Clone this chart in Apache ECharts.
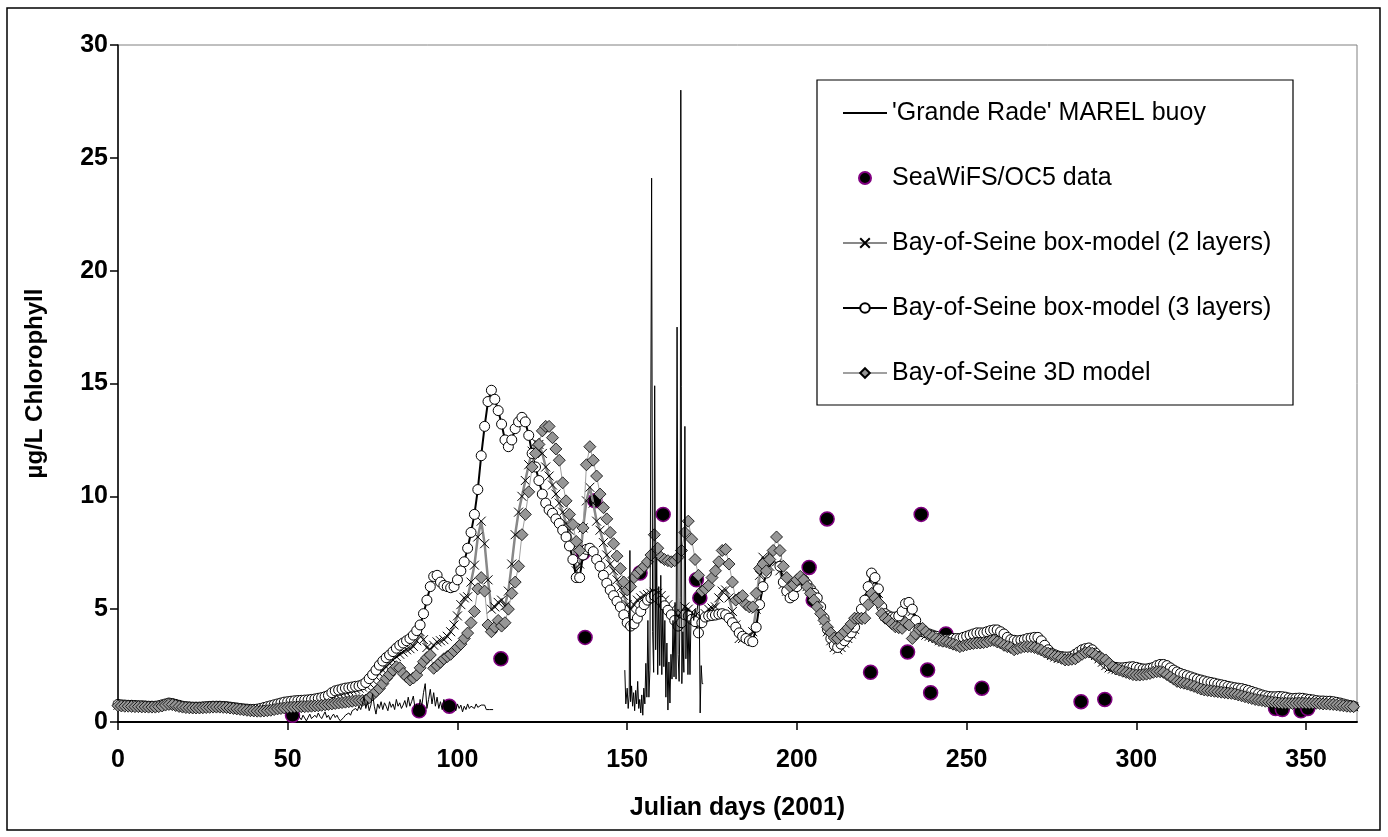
<!DOCTYPE html>
<html>
<head>
<meta charset="utf-8">
<title>Chlorophyll, Bay of Seine 2001</title>
<script src="https://cdn.jsdelivr.net/npm/echarts@6/dist/echarts.min.js"></script>
<style>
  html, body { margin: 0; padding: 0; background: #fff; }
  #chart { width: 1388px; height: 837px; }
</style>
</head>
<body>
<div id="chart"></div>
<script>
// ---- Data (Julian day 2001, µg/L chlorophyll) ----

// Axis ticks
const xTickValues = [0, 50, 100, 150, 200, 250, 300, 350];
const yTickValues = [0, 5, 10, 15, 20, 25, 30];

// Daily model outputs, starting at day 0
const modelFirstDay = 0;

const boxModel2Layers = [
  0.74,0.73,0.72,0.72,0.71,0.70,0.70,0.69,0.69,0.68,
  0.68,0.68,0.70,0.73,0.77,0.80,0.79,0.75,0.71,0.68,
  0.66,0.65,0.64,0.64,0.64,0.65,0.66,0.67,0.68,0.68,
  0.68,0.67,0.66,0.64,0.62,0.60,0.58,0.56,0.55,0.54,
  0.54,0.55,0.57,0.60,0.63,0.66,0.70,0.73,0.76,0.79,
  0.82,0.84,0.86,0.87,0.88,0.89,0.90,0.91,0.93,0.95,
  0.98,1.02,1.07,1.15,1.22,1.27,1.31,1.35,1.38,1.42,
  1.45,1.50,1.55,1.62,1.72,1.85,2.00,2.15,2.30,2.45,
  2.60,2.75,2.90,3.00,3.10,3.20,3.25,3.35,3.60,4.00,
  3.65,3.30,3.20,3.40,3.55,3.60,3.65,3.80,4.00,4.30,
  4.70,5.20,5.50,5.55,6.20,6.95,8.20,8.90,7.90,6.30,
  5.00,5.10,5.30,5.40,5.15,5.80,7.00,8.30,9.30,10.0,
  10.7,11.4,12.0,12.4,12.3,11.9,11.3,10.9,10.5,10.1,
  9.70,9.30,8.80,8.50,7.80,6.70,7.00,8.60,9.80,10.4,
  9.70,8.90,8.50,7.95,7.40,7.00,6.70,6.30,5.95,5.60,
  5.20,5.00,5.20,5.40,5.50,5.60,5.65,5.70,5.75,5.70,
  5.60,5.40,5.20,5.00,4.80,4.70,4.80,5.10,5.00,4.85,
  4.70,4.55,4.60,4.80,5.00,5.05,5.10,5.50,5.80,5.85,
  5.50,4.90,4.30,3.70,3.70,3.75,3.80,4.00,5.00,6.50,
  7.30,7.10,6.90,7.20,7.10,6.70,6.10,5.80,5.60,5.80,
  6.10,6.20,6.20,6.00,5.80,5.60,5.40,5.00,4.50,4.00,
  3.60,3.30,3.20,3.30,3.50,3.70,3.90,4.10,4.50,4.90,
  5.30,5.80,6.30,6.20,5.70,5.00,4.70,4.60,4.55,4.55,
  4.60,4.80,5.10,5.15,4.90,4.40,4.05,3.90,3.85,3.80,
  3.75,3.70,3.60,3.55,3.55,3.55,3.60,3.60,3.60,3.65,
  3.70,3.75,3.80,3.85,3.85,3.85,3.90,3.95,3.98,3.98,
  3.90,3.80,3.65,3.55,3.52,3.50,3.52,3.55,3.60,3.62,
  3.65,3.65,3.50,3.30,3.10,2.95,2.88,2.82,2.80,2.78,
  2.78,2.80,2.90,3.00,3.10,3.15,3.18,3.10,2.95,2.80,
  2.65,2.50,2.40,2.35,2.32,2.30,2.30,2.32,2.34,2.35,
  2.32,2.28,2.25,2.25,2.28,2.32,2.40,2.45,2.45,2.40,
  2.30,2.20,2.12,2.05,2.00,1.95,1.90,1.85,1.80,1.76,
  1.72,1.68,1.65,1.62,1.58,1.55,1.52,1.48,1.45,1.42,
  1.40,1.38,1.34,1.30,1.25,1.20,1.15,1.10,1.06,1.03,
  1.02,1.02,1.03,1.02,1.00,0.96,0.94,0.95,0.96,0.95,
  0.92,0.90,0.88,0.86,0.85,0.85,0.84,0.84,0.82,0.80,
  0.78,0.75,0.72,0.70,0.68
];

const boxModel3Layers = [
  0.78,0.76,0.75,0.74,0.74,0.73,0.72,0.72,0.71,0.70,
  0.70,0.70,0.72,0.76,0.80,0.84,0.82,0.78,0.74,0.70,
  0.68,0.67,0.66,0.66,0.66,0.67,0.68,0.69,0.70,0.70,
  0.70,0.69,0.68,0.66,0.64,0.62,0.60,0.58,0.57,0.56,
  0.56,0.57,0.60,0.64,0.68,0.72,0.76,0.80,0.84,0.88,
  0.90,0.92,0.94,0.95,0.96,0.97,0.98,1.00,1.02,1.05,
  1.08,1.12,1.18,1.30,1.38,1.42,1.46,1.50,1.52,1.55,
  1.58,1.60,1.65,1.75,1.92,2.10,2.30,2.52,2.70,2.85,
  2.97,3.12,3.27,3.40,3.50,3.60,3.70,3.85,4.05,4.30,
  4.80,5.40,6.00,6.45,6.50,6.20,6.05,6.00,5.95,6.00,
  6.30,6.70,7.10,7.70,8.40,9.20,10.3,11.8,13.1,14.2,
  14.7,14.3,13.8,13.2,12.5,12.2,12.5,13.0,13.3,13.5,
  13.3,12.7,11.9,11.3,10.7,10.1,9.70,9.40,9.25,9.00,
  8.80,8.50,8.20,7.80,7.20,6.40,6.40,7.40,7.65,7.70,
  7.55,7.20,6.90,6.50,6.15,5.85,5.60,5.35,5.10,4.75,
  4.40,4.25,4.35,4.60,4.90,5.20,5.40,5.50,5.60,5.50,
  5.35,5.15,4.95,4.75,4.50,4.25,4.40,4.75,4.70,4.55,
  4.45,3.95,4.40,4.65,4.70,4.72,4.74,4.78,4.80,4.75,
  4.60,4.40,4.20,3.95,3.80,3.70,3.60,3.56,4.20,5.20,
  6.00,6.60,7.20,7.50,7.30,6.90,6.20,5.80,5.50,5.60,
  6.00,6.30,6.30,6.10,5.90,5.70,5.50,5.10,4.60,4.10,
  3.70,3.40,3.30,3.45,3.60,3.80,3.95,4.20,4.60,5.00,
  5.40,6.00,6.60,6.40,5.90,5.10,4.80,4.70,4.65,4.65,
  4.70,4.90,5.25,5.30,5.00,4.50,4.15,4.00,3.95,3.90,
  3.85,3.80,3.70,3.65,3.65,3.65,3.70,3.70,3.70,3.75,
  3.80,3.85,3.90,3.95,3.95,3.95,4.00,4.05,4.08,4.08,
  4.00,3.90,3.75,3.65,3.62,3.60,3.62,3.65,3.70,3.72,
  3.75,3.75,3.60,3.40,3.20,3.05,2.98,2.92,2.90,2.88,
  2.88,2.90,3.00,3.10,3.20,3.25,3.28,3.20,3.05,2.90,
  2.75,2.60,2.50,2.45,2.42,2.40,2.40,2.42,2.44,2.45,
  2.42,2.38,2.35,2.35,2.38,2.42,2.50,2.55,2.55,2.50,
  2.40,2.30,2.22,2.15,2.10,2.05,2.00,1.95,1.90,1.86,
  1.82,1.78,1.75,1.72,1.68,1.65,1.62,1.58,1.55,1.52,
  1.50,1.48,1.44,1.40,1.35,1.30,1.25,1.20,1.16,1.13,
  1.12,1.12,1.13,1.12,1.10,1.06,1.04,1.05,1.06,1.05,
  1.02,1.00,0.98,0.95,0.93,0.93,0.92,0.92,0.90,0.87,
  0.84,0.80,0.76,0.73,0.70
];

const model3D = [
  0.72,0.71,0.70,0.70,0.69,0.68,0.68,0.67,0.67,0.66,
  0.66,0.66,0.68,0.71,0.75,0.78,0.77,0.73,0.69,0.66,
  0.64,0.63,0.62,0.62,0.62,0.63,0.64,0.65,0.66,0.66,
  0.66,0.65,0.64,0.62,0.60,0.58,0.56,0.54,0.52,0.50,
  0.49,0.48,0.48,0.49,0.50,0.52,0.55,0.58,0.60,0.62,
  0.64,0.65,0.66,0.67,0.68,0.68,0.69,0.70,0.71,0.72,
  0.74,0.76,0.78,0.80,0.82,0.84,0.86,0.88,0.90,0.92,
  0.94,0.95,0.96,0.97,1.08,1.20,1.35,1.49,1.70,1.93,
  2.10,2.30,2.45,2.40,2.15,2.00,1.86,1.95,2.08,2.40,
  2.67,2.85,2.97,2.38,2.50,2.65,2.80,2.90,3.00,3.15,
  3.30,3.45,3.70,3.94,4.40,4.90,5.90,6.40,5.80,4.30,
  4.00,4.20,4.50,4.25,4.40,5.00,5.70,6.20,6.90,8.30,
  9.20,10.2,11.3,11.9,12.3,12.9,13.1,13.1,12.6,12.1,
  11.6,10.6,9.80,9.20,8.75,8.00,7.60,8.60,11.4,12.2,
  11.6,10.9,10.1,9.50,9.00,8.40,7.90,7.35,6.80,6.20,
  5.85,6.00,6.40,6.60,6.75,6.90,7.10,7.40,8.30,7.70,
  7.30,7.20,7.15,7.10,7.15,7.30,7.60,8.40,8.90,8.10,
  7.20,6.50,5.80,5.90,6.05,6.40,6.70,7.10,7.60,7.65,
  7.00,6.20,5.40,5.50,5.60,5.20,5.10,5.10,5.70,6.80,
  7.00,6.70,7.20,7.60,8.20,7.60,6.90,6.40,6.00,6.10,
  6.30,6.45,6.30,6.00,5.70,5.40,5.10,4.80,4.50,4.20,
  3.95,3.72,3.70,3.85,4.00,4.16,4.35,4.60,4.60,4.60,
  4.60,5.20,5.70,5.50,5.30,4.80,4.60,4.50,4.35,4.22,
  4.18,4.15,4.40,4.30,3.70,3.90,4.10,4.15,4.00,3.85,
  3.78,3.70,3.62,3.58,3.56,3.50,3.45,3.40,3.34,3.38,
  3.42,3.46,3.48,3.50,3.50,3.52,3.55,3.60,3.62,3.55,
  3.50,3.40,3.34,3.30,3.20,3.25,3.30,3.34,3.34,3.34,
  3.30,3.25,3.19,3.10,3.05,2.98,2.92,2.89,2.82,2.75,
  2.75,2.78,2.80,2.90,3.00,3.08,3.10,3.05,2.95,2.85,
  2.80,2.75,2.60,2.45,2.35,2.30,2.25,2.20,2.15,2.10,
  2.08,2.08,2.10,2.12,2.15,2.20,2.23,2.23,2.20,2.10,
  2.00,1.90,1.80,1.75,1.72,1.68,1.63,1.58,1.52,1.46,
  1.42,1.40,1.38,1.36,1.34,1.32,1.30,1.28,1.27,1.24,
  1.20,1.16,1.12,1.08,1.04,1.00,0.97,0.95,0.92,0.90,
  0.88,0.86,0.84,0.83,0.83,0.82,0.82,0.83,0.84,0.84,
  0.83,0.83,0.83,0.83,0.82,0.80,0.80,0.79,0.78,0.76,
  0.74,0.72,0.70,0.69,0.68
];

// Satellite estimates
const seaWiFSDays = [51.4, 88.7, 97.6, 112.8, 137.0, 137.6, 140.5, 153.8, 160.6, 170.4,
  171.4, 203.6, 204.8, 208.9, 221.7, 232.6, 236.6, 238.5, 239.4, 243.9,
  254.5, 283.7, 290.7, 341.0, 343.0, 348.5, 350.5];
const seaWiFSValues = [0.3, 0.5, 0.7, 2.8, 7.5, 3.75, 9.8, 6.6, 9.2, 6.3,
  5.5, 6.85, 5.4, 9.0, 2.2, 3.1, 9.2, 2.3, 1.3, 3.9,
  1.5, 0.9, 1.0, 0.6, 0.55, 0.5, 0.6];

// MAREL buoy, first deployment (spring)
const buoySpringDays = [
  52,52.5,53,53.5,54,54.5,55,55.5,56,56.5,57,57.5,58,58.5,59,59.5,60,60.5,61,61.5,
  62,62.5,63,63.5,64,64.5,65,65.5,66,66.5,67,67.5,68,68.5,69,69.5,70,70.5,71,71.5,
  72,72.5,73,73.5,74,74.5,75,75.5,76,76.5,77,77.5,78,78.5,79,79.5,80,80.5,81,81.5,
  82,82.5,83,83.5,84,84.5,85,85.5,86,86.5,87,87.5,88,88.5,89,89.5,90,90.5,91,91.5,
  92,92.5,93,93.5,94,94.5,95,95.5,96,96.5,97,97.5,98,98.5,99,99.5,100,100.5,101,101.5,
  102,102.5,103,103.5,104,104.5,105,105.5,106,106.5,107,107.5,108,108.5,109,109.5,110,110.5
];
const buoySpringValues = [
  0.30,0.15,0.35,0.20,0.10,0.30,0.25,0.05,0.20,0.35,0.15,0.10,0.30,0.20,0.40,0.25,0.15,0.30,0.45,0.20,
  0.30,0.10,0.25,0.35,0.20,0.30,0.15,0.05,0.00,0.20,0.30,0.25,0.40,0.30,0.50,0.45,0.60,0.50,0.70,0.55,
  0.80,1.10,0.60,0.90,0.50,0.75,1.25,0.70,0.35,0.80,0.60,0.90,0.55,0.85,0.70,0.50,0.90,0.65,0.80,0.55,
  1.00,0.70,0.85,0.60,0.75,0.95,0.65,1.10,0.70,0.90,1.15,0.60,0.80,0.45,1.00,0.70,1.30,1.70,0.60,1.00,
  1.45,0.80,1.30,0.70,1.10,0.60,0.90,0.55,1.00,0.70,0.85,0.60,0.80,0.65,0.75,0.50,0.80,0.60,0.75,0.45,
  0.70,0.55,0.80,0.60,0.70,0.75,0.60,0.80,0.65,0.70,0.75,0.70,0.75,0.55,0.55,0.55,0.55,0.55
];

// MAREL buoy, second deployment (early summer)
const buoySummerDays = [
  149.3,149.6,150.0,150.3,150.6,150.8,151.0,151.3,151.6,151.9,152.2,152.5,152.8,153.1,153.4,153.7,
  154.0,154.3,154.6,154.9,155.2,155.5,155.8,156.1,156.4,156.7,157.2,157.5,157.8,158.1,158.4,158.7,
  159.0,159.3,159.6,159.9,160.2,160.5,160.8,161.1,161.4,161.7,162.0,162.3,162.6,162.9,163.2,163.5,
  163.8,164.1,164.4,164.7,165.0,165.3,165.6,165.8,166.1,166.4,166.7,167.0,167.3,167.6,167.9,168.2,
  168.5,168.8,169.2,169.6,170.0,170.4,170.8,171.2,171.5,171.8,172.1,172.4
];
const buoySummerValues = [
  2.3,0.8,1.5,0.6,1.2,7.6,0.9,1.6,0.7,1.3,0.5,1.4,0.8,1.8,0.6,1.0,
  0.4,1.2,0.3,1.5,0.8,2.6,1.1,4.5,1.1,2.3,24.1,4.0,2.2,14.9,3.2,7.3,
  2.1,6.0,2.5,6.5,2.1,5.0,2.45,4.5,1.1,3.5,0.53,2.66,0.84,3.0,1.9,4.5,
  2.0,5.3,1.9,17.5,3.0,1.8,5.5,28.0,1.7,4.0,2.2,13.1,2.8,5.0,2.1,4.5,
  2.1,4.6,4.9,4.5,5.0,4.7,5.2,5.5,0.4,2.5,1.7,1.7
];

// Legend labels
const NAME_BUOY = "'Grande Rade' MAREL buoy";
const NAME_SAT = 'SeaWiFS/OC5 data';
const NAME_BOX2 = 'Bay-of-Seine box-model (2 layers)';
const NAME_BOX3 = 'Bay-of-Seine box-model (3 layers)';
const NAME_3D = 'Bay-of-Seine 3D model';

// ---- Build series data ----
const daily = vals => vals.map((v, i) => [modelFirstDay + i, v]);
const paired = (xs, ys) => xs.map((x, i) => [x, ys[i]]);

// the two buoy deployments are joined by an empty point so the line breaks
const buoyData = paired(buoySpringDays, buoySpringValues)
  .concat([[130, '-']])
  .concat(paired(buoySummerDays, buoySummerValues));

const FONT = '"Liberation Sans", Arial, Helvetica, sans-serif';
const CROSS = 'path://M0,0L10,10M10,0L0,10';

const chart = echarts.init(document.getElementById('chart'), null, { renderer: 'canvas' });

chart.setOption({
  animation: false,
  backgroundColor: '#fff',
  textStyle: { fontFamily: FONT },
  grid: {
    left: 118, right: 31, top: 45, bottom: 115,
    show: true, borderColor: '#808080', borderWidth: 1, backgroundColor: '#fff'
  },
  xAxis: {
    type: 'value', min: 0, max: 365, interval: 50,
    name: 'Julian days (2001)', nameLocation: 'middle', nameGap: 74,
    nameTextStyle: { fontFamily: FONT, fontWeight: 'bold', fontSize: 25, color: '#000' },
    axisLine: { show: true, onZero: false, lineStyle: { color: '#000', width: 2 } },
    axisTick: { show: true, length: 8, inside: false, customValues: xTickValues,
      lineStyle: { color: '#000', width: 1.5 } },
    axisLabel: { customValues: xTickValues, margin: 26, fontFamily: FONT, fontWeight: 'bold',
      fontSize: 25, color: '#000' },
    splitLine: { show: false }
  },
  yAxis: {
    type: 'value', min: 0, max: 30, interval: 5,
    name: 'µg/L Chlorophyll', nameLocation: 'middle', nameGap: 71, nameRotate: 90,
    nameTextStyle: { fontFamily: FONT, fontWeight: 'bold', fontSize: 24, color: '#000' },
    axisLine: { show: true, onZero: false, lineStyle: { color: '#000', width: 1.5 } },
    axisTick: { show: true, length: 8, inside: false, customValues: yTickValues,
      lineStyle: { color: '#000', width: 1.5 } },
    axisLabel: { customValues: yTickValues, margin: 10, fontFamily: FONT, fontWeight: 'bold',
      fontSize: 25, color: '#000' },
    splitLine: { show: false }
  },
  legend: {
    orient: 'vertical', left: 842, top: 98, padding: 0,
    itemWidth: 44, itemHeight: 12, itemGap: 35,
    selectedMode: false, z: 12,
    textStyle: { fontFamily: FONT, fontSize: 25, color: '#000', lineHeight: 30 },
    data: [
      { name: NAME_BUOY, itemStyle: { opacity: 0 } },
      { name: NAME_SAT },
      { name: NAME_BOX2 },
      { name: NAME_BOX3 },
      { name: NAME_3D }
    ]
  },
  graphic: [
    // legend frame
    { type: 'rect', z: 11, silent: true,
      shape: { x: 817, y: 80, width: 476, height: 325 },
      style: { fill: '#fff', stroke: '#000', lineWidth: 1.2 } },
    // outer chart frame
    { type: 'rect', z: 20, silent: true,
      shape: { x: 7, y: 8, width: 1373, height: 822 },
      style: { fill: 'transparent', stroke: '#000', lineWidth: 1.5 } }
  ],
  series: [
    {
      name: NAME_BUOY, type: 'line', z: 6, data: buoyData,
      symbol: 'none', connectNulls: false,
      lineStyle: { color: '#000', width: 1 },
      itemStyle: { color: '#000' },
      emphasis: { disabled: true }
    },
    {
      name: NAME_SAT, type: 'scatter', z: 2,
      data: paired(seaWiFSDays, seaWiFSValues),
      symbol: 'circle', symbolSize: 14,
      itemStyle: { color: '#000', borderColor: '#800080', borderWidth: 1.5, opacity: 1 },
      emphasis: { disabled: true }
    },
    {
      name: NAME_BOX2, type: 'line', z: 3, data: daily(boxModel2Layers),
      symbol: CROSS, symbolSize: 9, showAllSymbol: true,
      lineStyle: { color: '#888888', width: 2.5 },
      itemStyle: { color: '#000', borderColor: '#000', borderWidth: 1 },
      emphasis: { disabled: true }
    },
    {
      name: NAME_BOX3, type: 'line', z: 4, data: daily(boxModel3Layers),
      symbol: 'circle', symbolSize: 10, showAllSymbol: true,
      lineStyle: { color: '#000', width: 2 },
      itemStyle: { color: '#fff', borderColor: '#000', borderWidth: 1 },
      emphasis: { disabled: true }
    },
    {
      name: NAME_3D, type: 'line', z: 5, data: daily(model3D),
      symbol: 'diamond', symbolSize: 12, showAllSymbol: true,
      lineStyle: { color: '#a0a0a0', width: 1 },
      itemStyle: { color: '#969696', borderColor: '#000', borderWidth: 0.8 },
      emphasis: { disabled: true }
    }
  ]
});
</script>
</body>
</html>
